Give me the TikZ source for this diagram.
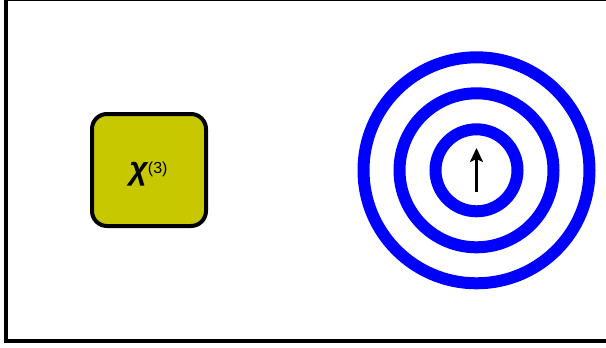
\documentclass[tikz,border=0pt]{standalone}
\usepackage{fontspec}
\setmainfont{Liberation Sans}
\usetikzlibrary{arrows.meta}
\begin{document}
\begin{tikzpicture}[x=1pt,y=-1pt,
  frame/.style={draw=black,line width=4pt},
  chibox/.style={draw=black,line width=4pt,fill=boxfill,rounded corners=15pt,minimum width=114pt,minimum height=112pt,inner sep=0pt},
  ring/.style={draw=ringblue,line width=12pt},
  spin/.style={draw=black,line width=2.2pt,-{Stealth[length=14pt,width=13pt,inset=3pt]}}]
\definecolor{boxfill}{RGB}{200,200,0}
\definecolor{ringblue}{RGB}{0,0,255}
\useasboundingbox (0,0) rectangle (606,348);
\draw[frame] (6,-1) rectangle (612,341);
\node[chibox] (box) at (149,170) {};
\node[anchor=base,inner sep=0pt] (chi) at (148.5,179) {\fontsize{32pt}{34pt}\selectfont\bfseries\itshape χ\raisebox{6pt}{\fontsize{16pt}{18pt}\selectfont\mdseries\upshape(3)}};
\coordinate (c) at (476.5,170.3);
\draw[ring] (c) circle[radius=113];
\draw[ring] (c) circle[radius=77];
\draw[ring] (c) circle[radius=41];
\coordinate (s0) at (476.5,192);
\coordinate (s1) at (476.5,148);
\draw[spin] (s0) -- (s1);
\end{tikzpicture}
\end{document}
